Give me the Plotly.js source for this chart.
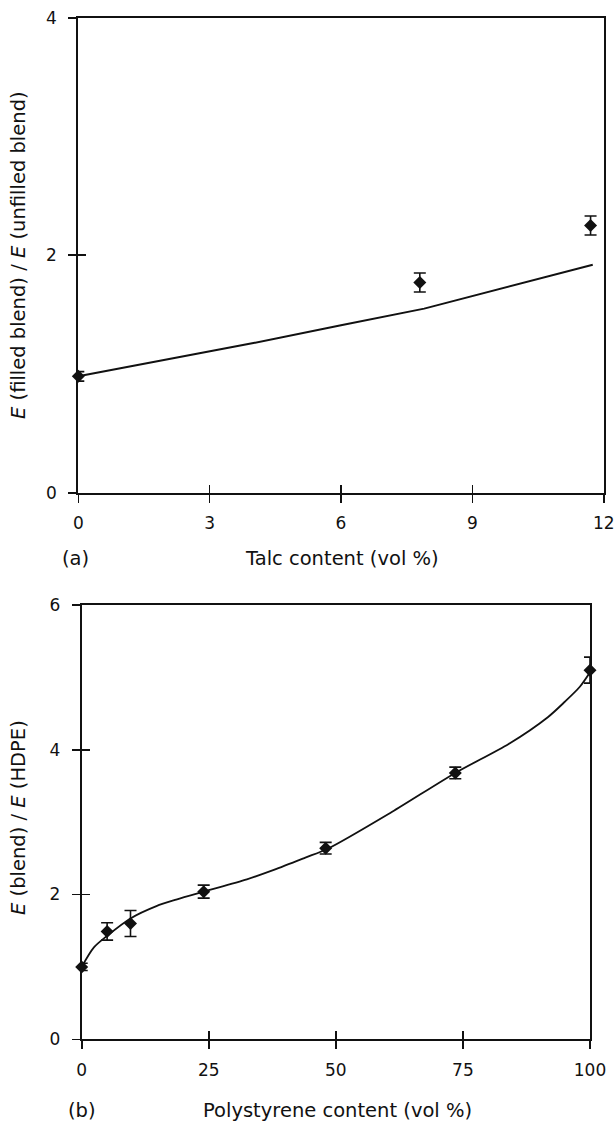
<!DOCTYPE html>
<html>
<head>
<meta charset="utf-8">
<script src="https://cdn.plot.ly/plotly-3.0.1.min.js"></script>
<style>html,body{margin:0;padding:0;background:#fff;}#chart{width:614px;height:1122px;}</style>
</head>
<body>
<div id="chart"></div>
<script>
// ---- Data: panel (a) ----
const talcX = [0, 7.8, 11.7];
const talcY = [0.98, 1.77, 2.25];
const talcErr = [0.04, 0.08, 0.08];
const talcModelX = [0, 2, 4, 6, 7.9, 11.75];
const talcModelY = [0.98, 1.12, 1.26, 1.41, 1.55, 1.92];
const talcXTicks = [0, 3, 6, 9, 12];
const talcYTicks = [0, 2, 4];

// ---- Data: panel (b) ----
const psX = [0, 5, 9.6, 24, 48, 73.5, 100];
const psY = [1.0, 1.49, 1.6, 2.04, 2.64, 3.68, 5.1];
const psErr = [0.05, 0.12, 0.18, 0.09, 0.08, 0.08, 0.18];
const psCurveX = [0, 2.4, 5, 9.6, 14.7, 18.6, 24, 32.5, 37.8, 44, 48.6, 61, 73.5, 84, 91.7, 95, 98, 100];
const psCurveY = [1.0, 1.27, 1.43, 1.67, 1.84, 1.93, 2.04, 2.21, 2.34, 2.51, 2.64, 3.14, 3.68, 4.08, 4.45, 4.66, 4.87, 5.07];
const psXTicks = [0, 25, 50, 75, 100];
const psYTicks = [0, 2, 4, 6];

const FONT = 'DejaVu Sans, Verdana, sans-serif';
const INK = '#111';
const TICKSIZE = 17;
const TITLESIZE = 19.5;

const marker = {symbol: 'diamond', size: 10, color: INK};
const errStyle = (arr) => ({type: 'data', array: arr, visible: true, color: INK, thickness: 1.6, width: 6});

const traces = [
  {x: talcModelX, y: talcModelY, mode: 'lines', line: {color: INK, width: 2}, xaxis: 'x', yaxis: 'y', hoverinfo: 'skip'},
  {x: talcX, y: talcY, mode: 'markers', marker: marker, error_y: errStyle(talcErr), xaxis: 'x', yaxis: 'y', cliponaxis: false},
  {x: psCurveX, y: psCurveY, mode: 'lines', line: {color: INK, width: 1.8, shape: 'spline', smoothing: 0.8}, xaxis: 'x2', yaxis: 'y2', hoverinfo: 'skip'},
  {x: psX, y: psY, mode: 'markers', marker: marker, error_y: errStyle(psErr), xaxis: 'x2', yaxis: 'y2', cliponaxis: false},
  // empty traces to activate the inside-tick overlay axes
  {x: [], y: [], mode: 'markers', xaxis: 'x3', yaxis: 'y3', showlegend: false},
  {x: [], y: [], mode: 'markers', xaxis: 'x4', yaxis: 'y4', showlegend: false}
];

const P = (px) => px / 614;
const Q = (py) => 1 - py / 1122;

const baseAxis = {
  showgrid: false, zeroline: false, showline: true, linecolor: INK, linewidth: 2,
  ticks: 'outside', ticklen: 8, tickwidth: 1.6, tickcolor: INK, ticklabeloverflow: 'allow',
  tickfont: {family: FONT, size: TICKSIZE, color: INK}, fixedrange: true
};
const overlayAxis = {
  showgrid: false, zeroline: false, showline: false, showticklabels: false,
  ticks: 'inside', ticklen: 8, tickwidth: 1.6, tickcolor: INK, fixedrange: true
};

const titleFont = {family: FONT, size: TITLESIZE, color: INK};

const layout = {
  width: 614, height: 1122,
  margin: {l: 0, r: 0, t: 0, b: 0},
  paper_bgcolor: '#fff', plot_bgcolor: '#fff',
  showlegend: false,
  font: {family: FONT, color: INK},
  xaxis: Object.assign({}, baseAxis, {domain: [P(78.3), P(603.7)], range: [0, 12], anchor: 'y', mirror: true,
    tickmode: 'array', tickvals: talcXTicks, ticklabelstandoff: 6}),
  yaxis: Object.assign({}, baseAxis, {domain: [Q(492.7), Q(17.7)], range: [0, 4], anchor: 'x', mirror: true,
    tickmode: 'array', tickvals: talcYTicks, ticklabelstandoff: 8}),
  xaxis3: Object.assign({}, overlayAxis, {overlaying: 'x', anchor: 'y3', range: [0, 12], tickmode: 'array', tickvals: talcXTicks}),
  yaxis3: Object.assign({}, overlayAxis, {overlaying: 'y', anchor: 'x3', range: [0, 4], tickmode: 'array', tickvals: talcYTicks}),
  xaxis2: Object.assign({}, baseAxis, {domain: [P(81.7), P(590)], range: [0, 100], anchor: 'y2', mirror: true,
    tickmode: 'array', tickvals: psXTicks, ticklabelstandoff: 6}),
  yaxis2: Object.assign({}, baseAxis, {domain: [Q(1039.3), Q(605)], range: [0, 6], anchor: 'x2', mirror: true,
    tickmode: 'array', tickvals: psYTicks, ticklabelstandoff: 8}),
  xaxis4: Object.assign({}, overlayAxis, {overlaying: 'x2', anchor: 'y4', range: [0, 100], tickmode: 'array', tickvals: psXTicks}),
  yaxis4: Object.assign({}, overlayAxis, {overlaying: 'y2', anchor: 'x4', range: [0, 6], tickmode: 'array', tickvals: psYTicks}),
  annotations: [
    {text: '<i>E</i> (filled blend) / <i>E</i> (unfilled blend)', xref: 'paper', yref: 'paper',
      x: P(18), y: Q(255), textangle: -90, showarrow: false, xanchor: 'center', yanchor: 'middle', font: titleFont},
    {text: 'Talc content (vol %)', xref: 'paper', yref: 'paper', x: P(342), y: Q(558),
      showarrow: false, xanchor: 'center', yanchor: 'middle', font: titleFont},
    {text: '(a)', xref: 'paper', yref: 'paper', x: P(75), y: Q(558),
      showarrow: false, xanchor: 'center', yanchor: 'middle', font: titleFont},
    {text: '<i>E</i> (blend) / <i>E</i> (HDPE)', xref: 'paper', yref: 'paper',
      x: P(18), y: Q(818), textangle: -90, showarrow: false, xanchor: 'center', yanchor: 'middle', font: titleFont},
    {text: 'Polystyrene content (vol %)', xref: 'paper', yref: 'paper', x: P(337), y: Q(1110),
      showarrow: false, xanchor: 'center', yanchor: 'middle', font: titleFont},
    {text: '(b)', xref: 'paper', yref: 'paper', x: P(82), y: Q(1110),
      showarrow: false, xanchor: 'center', yanchor: 'middle', font: titleFont}
  ]
};

Plotly.newPlot('chart', traces, layout, {staticPlot: true, displayModeBar: false});
</script>
</body>
</html>
